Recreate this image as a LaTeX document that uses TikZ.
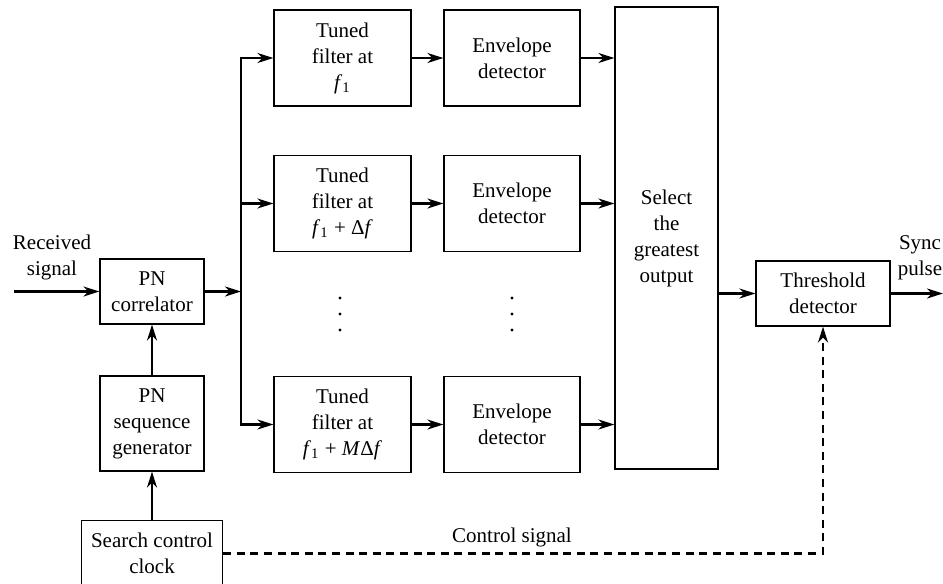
\documentclass[tikz,border=0pt]{standalone}
\usepackage{fontspec}
\setmainfont{Liberation Serif}
\usetikzlibrary{arrows.meta}
\begin{document}
\begin{tikzpicture}[x=0.5pt,y=-0.5pt,
  txt/.style={font=\fontsize{10.5}{13}\selectfont},
  blk/.style={txt, draw, line width=0.6pt, inner sep=0pt, align=center},
  lbl/.style={txt, align=center, inner sep=0pt},
  sig/.style={line width=1.2pt, -{Stealth[length=8pt,width=5pt,inset=2.5pt]}},
  dot/.style={circle, fill, inner sep=0pt, minimum size=1.7pt},
  ctl/.style={line width=1.2pt, dash pattern=on 4pt off 2.8pt, -{Stealth[length=8pt,width=5pt,inset=2.5pt]}}
]
\useasboundingbox (0,0) rectangle (943,584);
% blocks
\node[blk, minimum width=52pt, minimum height=32.5pt] (pnc) at (152,291.5) {PN\\correlator};
\node[blk, minimum width=52pt, minimum height=47.5pt] (pns) at (152,423.5) {PN\\sequence\\generator};
\node[blk, minimum width=70.5pt, minimum height=33pt] (sc) at (152,553.5) {Search control\\clock};
\node[blk, minimum width=68.5pt, minimum height=48pt] (t1) at (342.5,58) {Tuned\\filter at\\\textit{f}\textsubscript{1}};
\node[blk, minimum width=68.5pt, minimum height=48pt] (t2) at (342.5,203.5) {Tuned\\filter at\\\textit{f}\textsubscript{1} + Δ\textit{f}};
\node[blk, minimum width=68.5pt, minimum height=48pt] (t3) at (342.5,424.5) {Tuned\\filter at\\\textit{f}\textsubscript{1} + \textit{M}Δ\textit{f}};
\node[blk, minimum width=68pt, minimum height=48pt] (e1) at (512,58) {Envelope\\detector};
\node[blk, minimum width=68pt, minimum height=48pt] (e2) at (512,203.5) {Envelope\\detector};
\node[blk, minimum width=68pt, minimum height=48pt] (e3) at (512,424.5) {Envelope\\detector};
\node[blk, minimum width=51.5pt, minimum height=231pt] (sel) at (666.5,238) {Select\\the\\greatest\\output};
\node[blk, minimum width=67pt, minimum height=32.5pt] (thr) at (823,293.5) {Threshold\\detector};
% labels
\node[lbl] (rs) at (52,257.5) {Received\\signal};
\node[lbl] (sp) at (920,258) {Sync\\pulse};
\node[lbl] (cs) at (512,537) {Control signal};
% dots
\foreach \x/\n in {340/a,512/b}{
  \node[dot] (d\n1) at (\x,298) {};
  \node[dot] (d\n2) at (\x,314) {};
  \node[dot] (d\n3) at (\x,330) {};
}
% coordinates
\coordinate (in) at (14,291.5);
\coordinate (b0) at (241,291.5);
\coordinate (out) at (943,293.5);
% connectors
\draw[sig] (in) -- (pnc.west);
\draw[sig] (pnc.east) -- (b0);
\draw[line width=1.2pt, line cap=rect] (b0 |- t1.west) -- (b0 |- t3.west);
\draw[sig] (b0 |- t1.west) -- (t1.west);
\draw[sig] (b0 |- t2.west) -- (t2.west);
\draw[sig] (b0 |- t3.west) -- (t3.west);
\draw[sig] (t1.east) -- (e1.west);
\draw[sig] (t2.east) -- (e2.west);
\draw[sig] (t3.east) -- (e3.west);
\draw[sig] (e1.east) -- (e1.east -| sel.west);
\draw[sig] (e2.east) -- (e2.east -| sel.west);
\draw[sig] (e3.east) -- (e3.east -| sel.west);
\draw[sig] (sel.east |- thr.west) -- (thr.west);
\draw[sig] (thr.east) -- (out);
\draw[sig] (pns.north) -- (pnc.south);
\draw[sig] (sc.north) -- (pns.south);
\draw[ctl] (sc.east) -| (thr.south);
\end{tikzpicture}
\end{document}
